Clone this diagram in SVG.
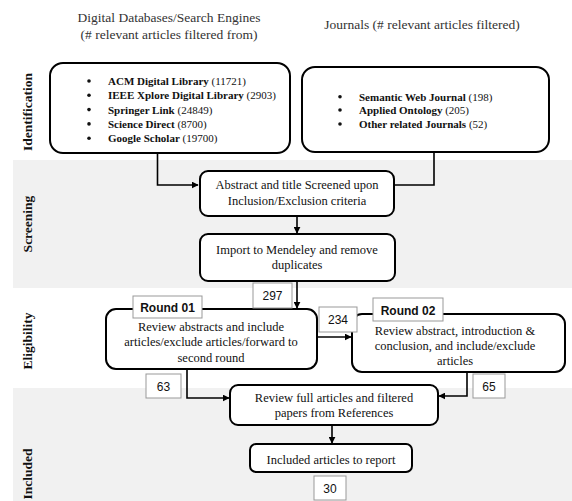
<svg xmlns="http://www.w3.org/2000/svg" width="572" height="501" viewBox="0 0 572 501">
<defs>
<marker id="ah" viewBox="0 0 10 10" refX="9" refY="5" markerWidth="7" markerHeight="7" markerUnits="userSpaceOnUse" orient="auto"><path d="M0,0 L10,5 L0,10 z" fill="#000"/></marker>
<style>
.band{fill:#f1f1f1}
.box{fill:#fff;stroke:#000;stroke-width:2}
.lbl{fill:#fff;stroke:#999;stroke-width:1}
.t{font-family:"Liberation Serif",serif;font-size:12.5px;fill:#111;text-anchor:middle}
.b{font-family:"Liberation Serif",serif;font-size:11px;fill:#111}
.b tspan.k{font-weight:bold}
.hd{font-family:"Liberation Serif",serif;font-size:13.5px;fill:#333;text-anchor:middle}
.vl{font-family:"Liberation Serif",serif;font-size:13.5px;font-weight:bold;fill:#111;text-anchor:middle}
.n{font-family:"Liberation Sans",sans-serif;font-size:12px;fill:#111;text-anchor:middle}
.r{font-family:"Liberation Sans",sans-serif;font-size:12px;font-weight:bold;fill:#111;text-anchor:middle}
.c{fill:none;stroke:#000;stroke-width:1.6}
</style>
</defs>
<rect class="band" x="13" y="160" width="559" height="128"/>
<rect class="band" x="13" y="388" width="559" height="113"/>
<text class="hd" x="169" y="22">Digital Databases/Search Engines</text>
<text class="hd" x="169" y="39">(# relevant articles filtered from)</text>
<text class="hd" x="422" y="29">Journals (# relevant articles filtered)</text>
<text class="vl" transform="translate(32,112) rotate(-90)">Identification</text>
<text class="vl" transform="translate(32,224) rotate(-90)">Screening</text>
<text class="vl" transform="translate(32,341) rotate(-90)">Eligibility</text>
<text class="vl" transform="translate(32,474) rotate(-90)">Included</text>
<g id="connectors">
<path class="c" d="M157.5,154 V185 H198" marker-end="url(#ah)"/>
<path class="c" d="M434,152 V185 H362" marker-end="url(#ah)"/>
<path class="c" d="M297,216 V233" marker-end="url(#ah)"/>
<path class="c" d="M297,281 V308" marker-end="url(#ah)"/>
<path class="c" d="M317,337 H351" marker-end="url(#ah)"/>
<path class="c" d="M187,369 V398 H229" marker-end="url(#ah)"/>
<path class="c" d="M467,372 V396 H439" marker-end="url(#ah)"/>
<path class="c" d="M332,425 V443" marker-end="url(#ah)"/>
</g>
<g id="n-databases">
<rect class="box" x="50" y="63" width="240" height="90" rx="13"/>
<g fill="#111"><circle cx="89" cy="81" r="1.8"/><circle cx="89" cy="95.3" r="1.8"/><circle cx="89" cy="109.6" r="1.8"/><circle cx="89" cy="123.9" r="1.8"/><circle cx="89" cy="138.2" r="1.8"/></g>
<text class="b" x="108" y="85"><tspan class="k">ACM Digital Library</tspan> (11721)</text>
<text class="b" x="108" y="99.3"><tspan class="k">IEEE Xplore Digital Library</tspan> (2903)</text>
<text class="b" x="108" y="113.6"><tspan class="k">Springer Link</tspan> (24849)</text>
<text class="b" x="108" y="127.9"><tspan class="k">Science Direct</tspan> (8700)</text>
<text class="b" x="108" y="142.2"><tspan class="k">Google Scholar</tspan> (19700)</text>
</g>
<g id="n-journals">
<rect class="box" x="302" y="67" width="247" height="85" rx="13"/>
<g fill="#111"><circle cx="340" cy="96.7" r="1.8"/><circle cx="340" cy="110" r="1.8"/><circle cx="340" cy="124" r="1.8"/></g>
<text class="b" x="359" y="100.7"><tspan class="k">Semantic Web Journal</tspan> (198)</text>
<text class="b" x="359" y="114"><tspan class="k">Applied Ontology</tspan> (205)</text>
<text class="b" x="359" y="128"><tspan class="k">Other related Journals</tspan> (52)</text>
</g>
<g id="n-screen">
<rect class="box" x="200" y="171" width="194" height="45" rx="8"/>
<text class="t" x="297" y="189">Abstract and title Screened upon</text>
<text class="t" x="297" y="205">Inclusion/Exclusion criteria</text>
</g>
<g id="n-mendeley">
<rect class="box" x="200" y="234" width="195" height="47" rx="8"/>
<text class="t" x="297" y="253.5">Import to Mendeley and remove</text>
<text class="t" x="297" y="268.5">duplicates</text>
</g>
<g id="n-round1">
<rect class="box" x="106" y="309" width="211" height="60" rx="10"/>
<rect class="lbl" x="133" y="296" width="69" height="22"/>
<text class="r" x="167.5" y="312">Round 01</text>
<text class="t" x="211" y="330.5">Review abstracts and include</text>
<text class="t" x="211" y="346">articles/exclude articles/forward to</text>
<text class="t" x="211" y="361.5">second round</text>
</g>
<g id="n-round2">
<rect class="box" x="352" y="314" width="213" height="58" rx="10"/>
<rect class="lbl" x="373" y="298" width="70" height="23"/>
<text class="r" x="408" y="314.5">Round 02</text>
<text class="t" x="455" y="334.5">Review abstract, introduction &amp;</text>
<text class="t" x="455" y="350">conclusion, and include/exclude</text>
<text class="t" x="455" y="365">articles</text>
</g>
<g id="n-full">
<rect class="box" x="230" y="385" width="208" height="40" rx="8"/>
<text class="t" x="334" y="401.5">Review full articles and filtered</text>
<text class="t" x="334" y="417">papers from References</text>
</g>
<g id="n-included">
<rect class="box" x="250" y="444" width="162" height="28" rx="6"/>
<text class="t" x="331" y="463.5">Included articles to report</text>
</g>
<g id="labels">
<rect class="lbl" x="253" y="283" width="39" height="25"/><text class="n" x="272.5" y="300">297</text>
<rect class="lbl" x="319" y="307" width="38" height="25"/><text class="n" x="338" y="324">234</text>
<rect class="lbl" x="146" y="374" width="35" height="24"/><text class="n" x="163.5" y="390.5">63</text>
<rect class="lbl" x="473" y="374" width="32" height="24"/><text class="n" x="489" y="390.5">65</text>
<rect class="lbl" x="314" y="476" width="32" height="24"/><text class="n" x="330" y="492.5">30</text>
</g>
</svg>
